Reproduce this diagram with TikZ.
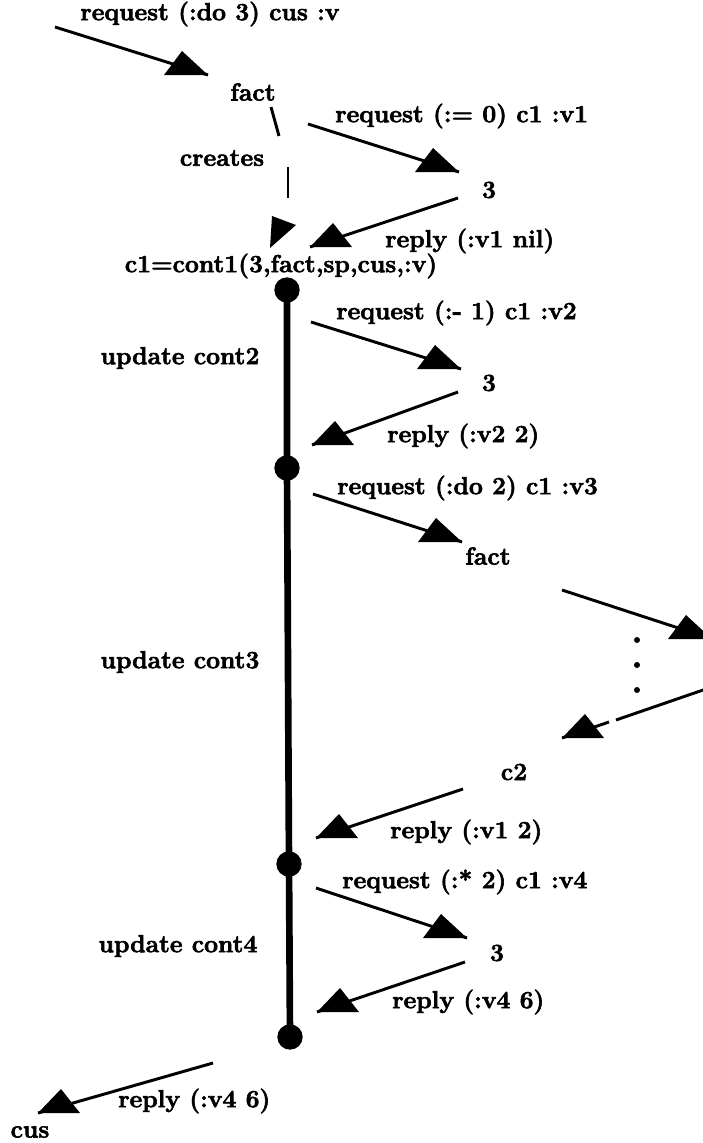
\documentclass[tikz,border=0pt]{standalone}
\begin{document}
\begin{tikzpicture}[x=0.75pt,y=-0.75pt,
  lbl/.style={font=\fontsize{18.5}{22}\selectfont\bfseries, inner sep=0pt, anchor=center,
    line width=0.45pt, execute at begin node={\special{pdf:literal direct 2 Tr}}},
  msg/.style={line width=2.2pt},
  life/.style={line width=5pt},
  dotnode/.style={circle, fill=black, minimum size=19pt, inner sep=0pt},
  rhead/.pic={\fill (0,0) -- (-44,0) -- (-26,-24) -- cycle;},
  lhead/.pic={\fill (0,0) -- (42,0) -- (23,-24) -- cycle;}]
\useasboundingbox (0,0) rectangle (703,1143);
\clip (0,0) rectangle (703,1143);

% labels
\node[lbl] (t1) at (210,14) {request (:do 3) cus :v};
\node[lbl] (fact1) at (253,92) {fact};
\node[lbl] (creates) at (222,158) {creates};
\node[lbl, anchor=west] (t2) at (335,116) {request (:= 0) c1 :v1};
\node[lbl] (three1) at (489,190) {3};
\node[lbl, anchor=west] (r1) at (385,241) {reply (:v1 nil)};
\node[lbl] (cont) at (281,266) {c1=cont1(3,fact,sp,cus,:v)};
\node[lbl, anchor=west] (t3) at (336,313) {request (:- 1) c1 :v2};
\node[lbl] (u2) at (180,358) {update cont2};
\node[lbl] (three2) at (489,383) {3};
\node[lbl, anchor=west] (r2) at (387,436) {reply (:v2 2)};
\node[lbl, anchor=west] (t4) at (337,488) {request (:do 2) c1 :v3};
\node[lbl] (fact2) at (488,556) {fact};
\node[lbl] (u3) at (180,662) {update cont3};
\node[lbl] (c2) at (514,772) {c2};
\node[lbl, anchor=west] (r3) at (390,832) {reply (:v1 2)};
\node[lbl, anchor=west] (t5) at (342,882) {request (:* 2) c1 :v4};
\node[lbl] (u4) at (178,946) {update cont4};
\node[lbl] (three3) at (497,953) {3};
\node[lbl, anchor=west] (r4) at (392,1002) {reply (:v4 6)};
\node[lbl, anchor=west] (r5) at (118,1101) {reply (:v4 6)};
\node[lbl] (cus) at (30,1132) {cus};

% lifeline
\coordinate (d1) at (287,290);
\coordinate (d2) at (287,468);
\coordinate (d3) at (289,864);
\coordinate (d4) at (290,1037);
\draw[life] (d1) -- (d2) -- (d3) -- (d4);
\foreach \d in {d1,d2,d3,d4} \node[dotnode] at (\d) {};

% creates (dashed)
\coordinate (cr1) at (271,107); \coordinate (cr2) at (279,136);
\coordinate (cr3) at (288,167); \coordinate (cr4) at (288,198);
\draw[msg] (cr1) -- (cr2);
\draw[msg] (cr3) -- (cr4);
\fill (272,216) -- (296,225) -- (270,248) -- cycle;

% messages
\coordinate (s1) at (55,27);   \coordinate (h1) at (208,75);
\draw[msg] (s1) -- (h1); \pic at (h1) {rhead};

\coordinate (s2) at (308,124); \coordinate (h2) at (459,172);
\draw[msg] (s2) -- (h2); \pic at (h2) {rhead};

\coordinate (s3) at (458,198); \coordinate (h3) at (310,247);
\draw[msg] (s3) -- (h3); \pic at (h3) {lhead};

\coordinate (s4) at (311,322); \coordinate (h4) at (461,369);
\draw[msg] (s4) -- (h4); \pic at (h4) {rhead};

\coordinate (s5) at (458,392); \coordinate (h5) at (312,445);
\draw[msg] (s5) -- (h5); \pic at (h5) {lhead};

\coordinate (s6) at (313,494); \coordinate (h6) at (462,542);
\draw[msg] (s6) -- (h6); \pic at (h6) {rhead};

\coordinate (s7) at (562,590); \coordinate (h7) at (712,639);
\draw[msg] (s7) -- (h7); \pic at (h7) {rhead};

\foreach \yy in {640,665,690} \fill (637,\yy) circle (3);

\coordinate (s8) at (706,689); \coordinate (g8a) at (616,720);
\coordinate (g8b) at (609,722); \coordinate (h8) at (562,738);
\draw[msg] (s8) -- (g8a);
\draw[msg] (g8b) -- (h8); \pic at (h8) {lhead};

\coordinate (s9) at (463,789); \coordinate (h9) at (316,838);
\draw[msg] (s9) -- (h9); \pic at (h9) {lhead};

\coordinate (s10) at (316,888); \coordinate (h10) at (467,938);
\draw[msg] (s10) -- (h10); \pic at (h10) {rhead};

\coordinate (s11) at (465,962); \coordinate (h11) at (317,1012);
\draw[msg] (s11) -- (h11); \pic at (h11) {lhead};

\coordinate (s12) at (213,1063); \coordinate (h12) at (38,1113);
\draw[msg] (s12) -- (h12); \pic at (h12) {lhead};
\end{tikzpicture}
\end{document}
